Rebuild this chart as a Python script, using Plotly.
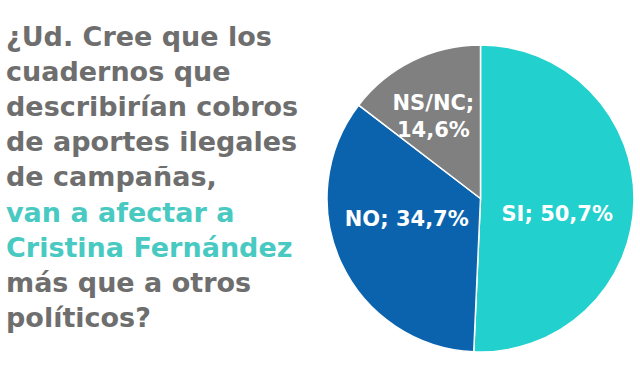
import plotly.graph_objects as go

labels = ["SI", "NO", "NS/NC"]
values = [50.7, 34.7, 14.6]
value_text = ["50,7%", "34,7%", "14,6%"]
colors = ["#22D0CD", "#0B63AE", "#808080"]

question_gray_1 = ["¿Ud. Cree que los", "cuadernos que", "describirían cobros",
                   "de aportes ilegales", "de campañas,"]
question_teal = ["van a afectar a", "Cristina Fernández"]
question_gray_2 = ["más que a otros", "políticos?"]

FONT = "DejaVu Sans"
NB = "\u00a0"

fig = go.Figure()
fig.add_trace(go.Pie(
    labels=labels, values=values, text=value_text,
    sort=False, direction="clockwise", rotation=0,
    marker=dict(colors=colors, line=dict(color="white", width=1.5)),
    texttemplate=[NB + "<br>%{label}; %{text}", "%{label}; %{text}<br>" + NB,
                  NB + "<br>%{label};<br>%{text}"],
    textposition="inside", insidetextorientation="horizontal",
    textfont=dict(family=FONT, size=21, color="white", weight="bold"),
    domain=dict(x=[327/640, 634/640], y=[1 - 352/380, 1 - 45/380]),
    showlegend=False, hoverinfo="skip",
))

gray = "#6E6E6E"
teal = "#48C9C1"
lines = [f'<span style="color:{gray}">{t}</span>' for t in question_gray_1]
lines += [f'<span style="color:{teal}">{t}</span>' for t in question_teal]
lines += [f'<span style="color:{gray}">{t}</span>' for t in question_gray_2]

fig.add_annotation(
    text="<br>".join(lines), xref="paper", yref="paper",
    x=5/640, y=1 - 20/380, xanchor="left", yanchor="top", align="left",
    showarrow=False, borderpad=0,
    font=dict(family=FONT, size=27, color=gray, weight="bold"),
)

fig.update_layout(
    width=640, height=380, margin=dict(l=0, r=0, t=0, b=0),
    paper_bgcolor="white", plot_bgcolor="white",
    uniformtext=dict(minsize=21, mode="show"),
)
fig.write_html("out.html", config={"displayModeBar": False},
               post_script="document.body.style.margin='0';")
